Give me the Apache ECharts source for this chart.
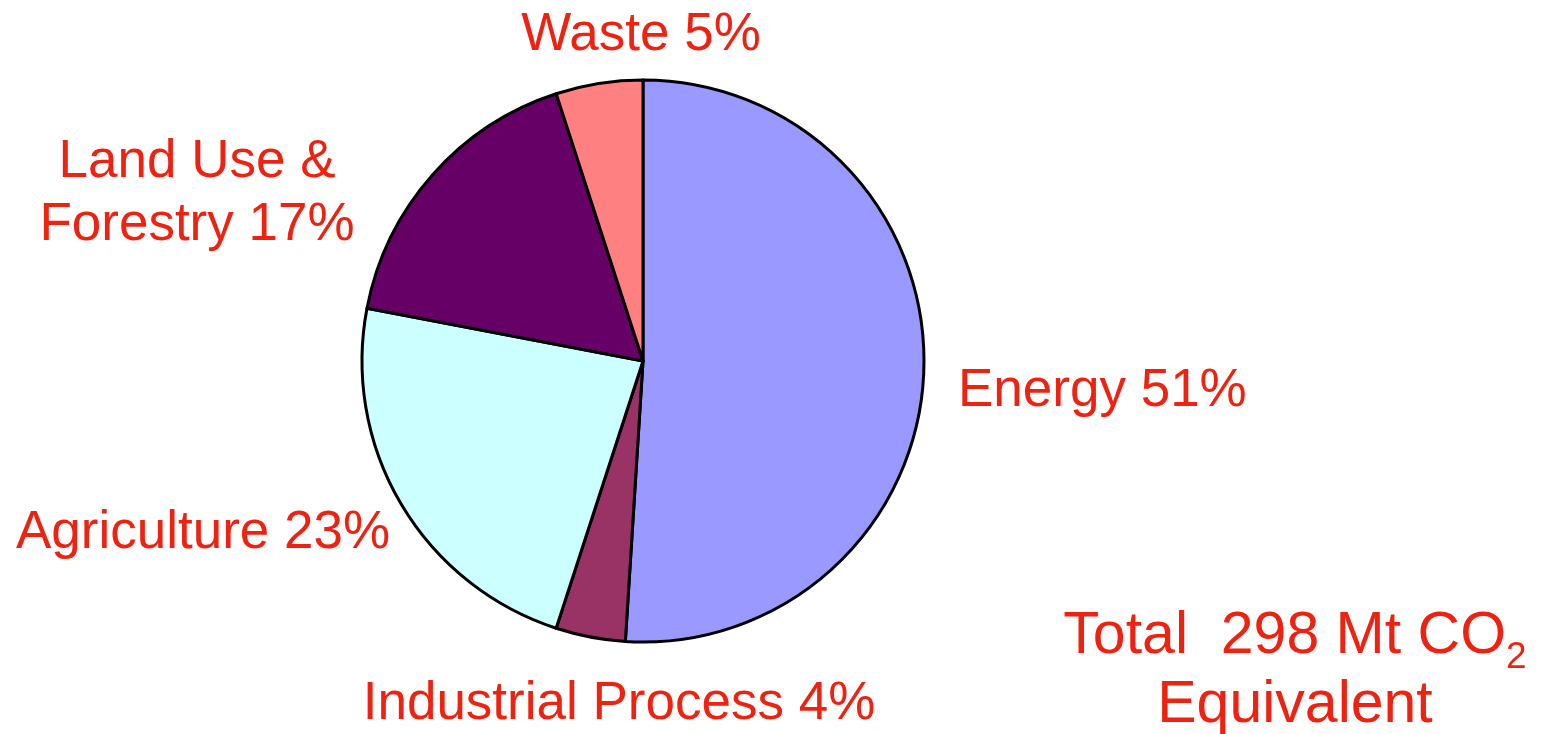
<!DOCTYPE html>
<html>
<head>
<meta charset="utf-8">
<script src="https://cdn.jsdelivr.net/npm/echarts@6/dist/echarts.min.js"></script>
<style>
  html, body { margin: 0; padding: 0; background: #fff; }
  #chart { width: 1546px; height: 734px; }
</style>
</head>
<body>
<div id="chart"></div>
<script>
// sectors, clockwise from 12 o'clock
const sectors = ['Energy', 'Industrial Process', 'Agriculture', 'Land Use &\nForestry', 'Waste'];
const shares = [51, 4, 23, 17, 5];
const colors = ['#9999FF', '#993366', '#CCFFFF', '#660066', '#FF8080'];
const totalLines = ['Total  298 Mt CO{sub|2}', 'Equivalent'];

// where each label sits (text anchor points)
const labelPos = [
  { x: 958, y: 391, align: 'left' },
  { x: 619, y: 704, align: 'center' },
  { x: 203, y: 533, align: 'center' },
  { x: 197, y: 194, align: 'center' },
  { x: 641, y: 35, align: 'center' }
];

const red = '#EE2211';
const font = '"Liberation Sans", Arial, sans-serif';

const myChart = echarts.init(document.getElementById('chart'));

const option = {
  backgroundColor: '#fff',
  animation: false,
  series: [
    {
      type: 'pie',
      center: [643, 361],
      radius: 281,
      startAngle: 90,
      clockwise: true,
      data: sectors.map((s, i) => ({
        name: s,
        value: shares[i],
        itemStyle: { color: colors[i] }
      })),
      itemStyle: {
        borderColor: '#000',
        borderWidth: 3
      },
      label: {
        show: true,
        formatter: '{b} {c}%',
        color: red,
        fontSize: 53,
        fontFamily: font,
        lineHeight: 63,
        overflow: 'none'
      },
      labelLine: { show: false },
      labelLayout: function (params) {
        const p = labelPos[params.dataIndex];
        return { x: p.x, y: p.y, align: p.align, verticalAlign: 'middle', moveOverlap: null };
      }
    }
  ],
  graphic: totalLines.map((t, i) => ({
    type: 'text',
    x: 1295,
    y: 637 + i * 69,
    style: {
      text: t,
      fill: red,
      font: '59px ' + font,
      align: 'center',
      verticalAlign: 'middle',
      rich: {
        sub: { fontSize: 37, fill: red, fontFamily: font, padding: [42, 0, 0, 0] }
      }
    }
  }))
};

option && myChart.setOption(option);
</script>
</body>
</html>
